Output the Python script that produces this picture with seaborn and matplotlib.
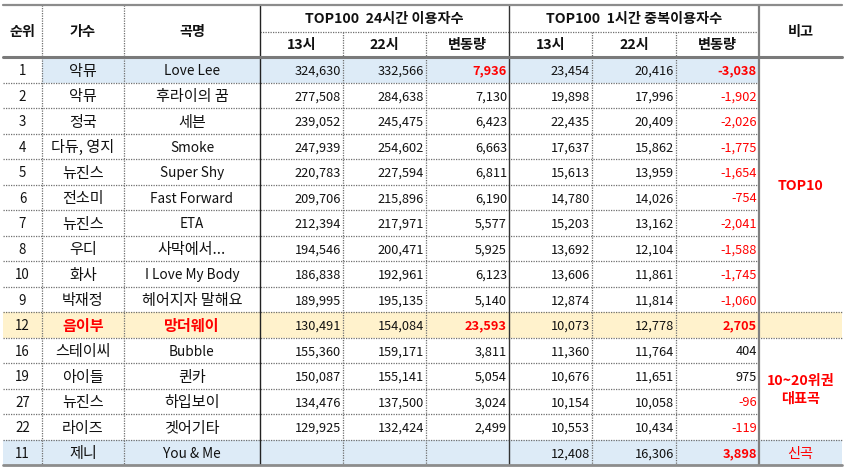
import matplotlib
matplotlib.use("Agg")
import matplotlib.pyplot as plt
import seaborn as sns

# ---------------- data ----------------
ranks = [1, 2, 3, 4, 5, 6, 7, 8, 10, 9, 12, 16, 19, 27, 22, 11]
singers = ['악뮤', '악뮤', '정국', '다듀, 영지', '뉴진스', '전소미', '뉴진스', '우디', '화사',
           '박재정', '음이부', '스테이씨', '아이들', '뉴진스', '라이즈', '제니']
songs = ['Love Lee', '후라이의 꿈', '세븐', 'Smoke', 'Super Shy', 'Fast Forward', 'ETA',
         '사막에서...', 'I Love My Body', '헤어지자 말해요', '망더웨이', 'Bubble', '퀸카',
         '하입보이', '겟어기타', 'You & Me']
day_13 = [324630, 277508, 239052, 247939, 220783, 209706, 212394, 194546, 186838, 189995,
          130491, 155360, 150087, 134476, 129925, None]
day_22 = [332566, 284638, 245475, 254602, 227594, 215896, 217971, 200471, 192961, 195135,
          154084, 159171, 155141, 137500, 132424, None]
day_chg = [7936, 7130, 6423, 6663, 6811, 6190, 5577, 5925, 6123, 5140, 23593, 3811, 5054,
           3024, 2499, None]
hour_13 = [23454, 19898, 22435, 17637, 15613, 14780, 15203, 13692, 13606, 12874, 10073,
           11360, 10676, 10154, 10553, 12408]
hour_22 = [20416, 17996, 20409, 15862, 13959, 14026, 13162, 12104, 11861, 11814, 12778,
           11764, 11651, 10058, 10434, 16306]
hour_chg = [-3038, -1902, -2026, -1775, -1654, -754, -2041, -1588, -1745, -1060, 2705, 404,
            975, -96, -119, 3898]
col_headers = ['순위', '가수', '곡명']
group_headers = ['TOP100  24시간 이용자수', 'TOP100  1시간 중복이용자수']
sub_headers = ['13시', '22시', '변동량']
note_header = '비고'
notes = [('TOP10', 0, 9), ('10~20위권\n대표곡', 11, 14), ('신곡', 15, 15)]

# ---------------- layout ----------------
sns.set_theme(style="white")
plt.rcParams['font.family'] = ['Noto Sans CJK KR', 'DejaVu Sans']

W, H, DPI = 850, 472, 100
fig = plt.figure(figsize=(W / DPI, H / DPI), dpi=DPI)
ax = fig.add_axes([0, 0, 1, 1])
ax.set_xlim(0, W)
ax.set_ylim(H, 0)
ax.axis('off')

xe = [3, 42, 124, 260, 343, 426, 509, 592, 676, 759, 842]
y_top, y_mid, y_hdr = 5, 32, 57
rh = 25.5
n = len(ranks)
ye = [y_hdr + i * rh for i in range(n + 1)]

BLUE = '#DDEBF7'
YELLOW = '#FFF2CC'
RED = '#FF0000'
TXT = '#111111'
GRID = '#6f6f6f'
DY = 1.5  # text baseline nudge

# fills
def fill(x0, x1, y0, y1, c):
    ax.fill_between([x0, x1], [y0, y0], [y1, y1], color=c, lw=0, zorder=0)

fill(xe[1], xe[9], ye[0], ye[1], BLUE)
fill(xe[0], xe[10], ye[10], ye[11], YELLOW)
fill(xe[0], xe[10], ye[15], ye[16], BLUE)

dot = dict(color=GRID, lw=0.9, ls=(0, (1, 1)), zorder=2)
# horizontal dotted row lines
merged_rows_inner = set(range(1, 10)) | set(range(12, 15))
for i in range(1, n):
    x1 = xe[9] if i in merged_rows_inner else xe[10]
    ax.plot([xe[0], x1], [ye[i], ye[i]], **dot)
ax.plot([xe[3], xe[9]], [y_mid, y_mid], **dot)
# vertical dotted
for xi in [1, 2]:
    ax.plot([xe[xi], xe[xi]], [y_top, ye[-1]], **dot)
for xi in [4, 5, 7, 8]:
    ax.plot([xe[xi], xe[xi]], [y_mid, ye[-1]], **dot)
# vertical solid
for xi, c, lw in [(3, '#222222', 1.0), (6, '#333333', 1.0), (9, '#808080', 1.6)]:
    ax.plot([xe[xi], xe[xi]], [y_top, ye[-1]], color=c, lw=lw, zorder=3)
# horizontal solid
ax.plot([xe[0], xe[10]], [y_top, y_top], color='#8c8c8c', lw=1.6, zorder=3)
ax.plot([xe[0], xe[10]], [y_hdr, y_hdr], color='#7a7a7a', lw=2.2, zorder=3)
ax.plot([xe[0], xe[10]], [ye[-1], ye[-1]], color='#8c8c8c', lw=2.0, zorder=3)

HFS = 10.2
# headers
for j, t in enumerate(col_headers):
    ax.text((xe[j] + xe[j + 1]) / 2, (y_top + y_hdr) / 2 + 1, t, ha='center', va='center',
            fontsize=HFS, fontweight='bold', color=TXT)
for g, t in enumerate(group_headers):
    x0, x1 = xe[3 + 3 * g], xe[6 + 3 * g]
    ax.text((x0 + x1) / 2, (y_top + y_mid) / 2 + 1, t, ha='center', va='center',
            fontsize=HFS, fontweight='bold', color=TXT)
    for k, s in enumerate(sub_headers):
        c = 3 + 3 * g + k
        ax.text((xe[c] + xe[c + 1]) / 2, (y_mid + y_hdr) / 2 + 1, s, ha='center',
                va='center', fontsize=HFS, fontweight='bold', color=TXT)
ax.text((xe[9] + xe[10]) / 2, (y_top + y_hdr) / 2 + 1, note_header, ha='center',
        va='center', fontsize=HFS, fontweight='bold', color=TXT)


def is_hangul(s):
    return any('\uac00' <= ch <= '\ud7a3' for ch in s)


NFS = 9.2
bold_red_cells = {(0, 5), (0, 8), (10, 1), (10, 2), (10, 5), (10, 8), (15, 8)}
for i in range(n):
    yc = (ye[i] + ye[i + 1]) / 2 + DY
    ax.text((xe[0] + xe[1]) / 2, yc, str(ranks[i]), ha='center', va='center',
            fontsize=NFS + 0.4, color=TXT)
    for c, s in [(1, singers[i]), (2, songs[i])]:
        br = (i, c) in bold_red_cells
        ax.text((xe[c] + xe[c + 1]) / 2, yc, s, ha='center', va='center',
                fontsize=10.9 if is_hangul(s) else 9.8,
                fontweight='bold' if br else 'normal', color=RED if br else TXT)
    vals = [day_13[i], day_22[i], day_chg[i], hour_13[i], hour_22[i], hour_chg[i]]
    for k, v in enumerate(vals):
        if v is None:
            continue
        c = 3 + k
        br = (i, c) in bold_red_cells
        col = RED if (br or v < 0) else TXT
        ax.text(xe[c + 1] - 2, yc, f"{v:,}", ha='right', va='center', fontsize=NFS,
                fontweight='bold' if br else 'normal', color=col)

for t, r0, r1 in notes:
    yc = (ye[r0] + ye[r1 + 1]) / 2 + DY
    ax.text((xe[9] + xe[10]) / 2, yc, t, ha='center', va='center', fontsize=10.2,
            fontweight='normal' if t == '신곡' else 'bold', color=RED, linespacing=1.3)

fig.savefig('out.png', dpi=DPI)
